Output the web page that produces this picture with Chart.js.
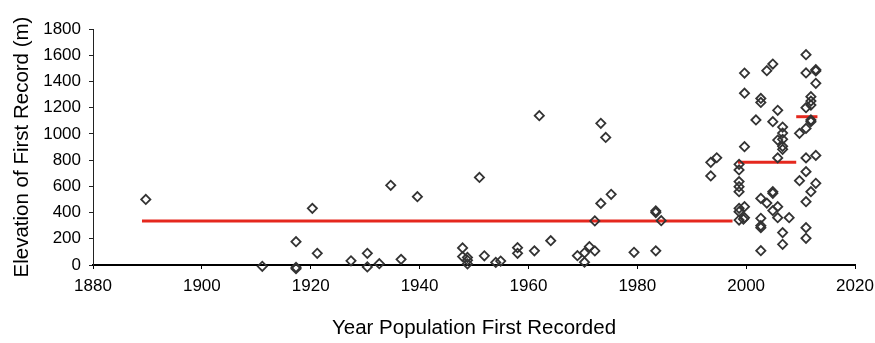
<!DOCTYPE html>
<html><head><meta charset="utf-8">
<script src="https://cdn.jsdelivr.net/npm/chart.js@4/dist/chart.umd.min.js"></script>
<style>html,body{margin:0;padding:0;background:#fff}#wrap{width:875px;height:343px;position:relative}</style>
</head><body><div id="wrap"><canvas id="c" width="875" height="343"></canvas></div>
<script>
const recordYears = [
 1889.7,1911.1,1917.3,1917.3,1917.3,1920.3,1921.2,1927.4,1930.4,1930.4,
 1932.6,1934.7,1936.6,1939.6,1947.9,1947.9,1948.8,1948.8,1948.8,1951.0,
 1951.9,1954.0,1954.9,1958.0,1958.0,1961.1,1962.0,1964.1,1969.0,1970.3,
 1970.3,1971.2,1972.2,1972.2,1973.3,1975.2,1973.3,1974.2,1979.4,1983.4,
 1983.4,1984.4,1983.4,1993.5,1993.5,1994.6,1998.7,1998.7,1998.7,1998.7,
 1998.7,1998.7,1998.7,1998.7,1999.7,1999.7,1999.5,1999.7,1999.7,1999.7,
 2001.8,2002.7,2002.7,2002.7,2002.7,2002.7,2002.7,2002.7,2003.8,2003.8,
 2004.9,2004.9,2004.9,2004.9,2004.9,2005.8,2005.8,2005.8,2005.8,2005.8,
 2006.7,2006.7,2006.7,2006.7,2006.7,2006.7,2006.7,2007.9,2009.8,2009.8,
 2011.0,2011.0,2011.0,2011.0,2011.0,2011.0,2011.0,2011.0,2011.0,
 2011.9,2011.9,2011.9,2011.9,2011.9,2011.9,
 2012.8,2012.8,2012.8,2012.8,2012.8
];
const recordElevations = [
 500,-10,178,-18,-28,432,89,32,89,-15,
 10,608,43,521,130,64,58,36,8,668,
 70,20,30,132,89,108,1139,185,71,93,
 21,140,107,336,470,539,1081,973,97,412,
 400,338,108,679,783,818,768,725,636,597,
 559,432,407,343,445,361,350,902,1464,1310,
 1106,508,356,300,285,109,1270,1240,472,1482,
 559,547,415,1533,1093,445,361,817,1180,953,
 247,158,905,882,1052,1006,959,361,643,1004,
 817,712,483,285,204,1042,1604,1465,1200,
 559,1093,1284,1250,1220,1106,
 836,623,1490,1480,1386
];
const meanStartYears = [1889.0, 1998.5, 2009.2];
const meanEndYears = [1997.5, 2009.2, 2013.1];
const meanElevations = [336, 783, 1131];
const xTickValues = [1880, 1900, 1920, 1940, 1960, 1980, 2000, 2020];
const yTickValues = [0, 200, 400, 600, 800, 1000, 1200, 1400, 1600, 1800];
const xAxisTitle = 'Year Population First Recorded';
const yAxisTitle = 'Elevation of First Record (m)';

const FONT = "'Liberation Sans', Arial, sans-serif";
const points = recordYears.map((x, i) => ({x: x, y: recordElevations[i]}));
const datasets = [{
  label: 'records',
  data: points,
  showLine: false,
  pointStyle: 'rectRot',
  pointRadius: 4.6,
  pointBorderWidth: 1.8,
  pointBorderColor: '#333333',
  pointBackgroundColor: 'rgba(255,255,255,0)',
  pointHoverRadius: 4.6,
  clip: false,
  order: 0
}];
meanElevations.forEach((v, i) => {
  datasets.push({
    label: 'mean' + i,
    data: [{x: meanStartYears[i], y: v}, {x: meanEndYears[i], y: v}],
    showLine: true,
    borderColor: '#e5281e',
    borderWidth: 3,
    pointRadius: 0,
    pointHoverRadius: 0,
    clip: false,
    order: 1
  });
});

new Chart(document.getElementById('c'), {
  type: 'scatter',
  data: {datasets: datasets},
  options: {
    responsive: false,
    devicePixelRatio: 1,
    animation: false,
    events: [],
    layout: {padding: {left: 0, right: 20, top: 29, bottom: 0}},
    plugins: {legend: {display: false}, tooltip: {enabled: false}},
    scales: {
      x: {
        type: 'linear',
        min: 1880, max: 2020,
        afterBuildTicks: (s) => { s.ticks = xTickValues.map(v => ({value: v})); },
        afterFit: (s) => { s.height = 78; s.paddingRight = 0; },
        border: {display: true, color: '#000', width: 2},
        grid: {display: true, drawOnChartArea: false, drawTicks: true, tickLength: 4, color: '#000', lineWidth: 1},
        ticks: {color: '#000', font: {family: FONT, size: 17}, padding: 7, maxRotation: 0, autoSkip: false, callback: (v) => String(v)},
        title: {display: true, text: xAxisTitle, color: '#000', font: {family: FONT, size: 20.5}, padding: {top: 0, bottom: 2}}
      },
      y: {
        type: 'linear',
        min: 0, max: 1800,
        afterBuildTicks: (s) => { s.ticks = yTickValues.map(v => ({value: v})); },
        afterFit: (s) => { s.width = 93; },
        border: {display: true, color: '#222', width: 1},
        grid: {display: true, drawOnChartArea: false, drawTicks: true, tickLength: 4, color: '#222', lineWidth: 1},
        ticks: {color: '#000', font: {family: FONT, size: 17}, padding: 8, autoSkip: false, callback: (v) => String(v)},
        title: {display: true, text: yAxisTitle, color: '#000', font: {family: FONT, size: 20.5}, padding: {top: 10, bottom: 0}}
      }
    }
  }
});
</script>
</body></html>
